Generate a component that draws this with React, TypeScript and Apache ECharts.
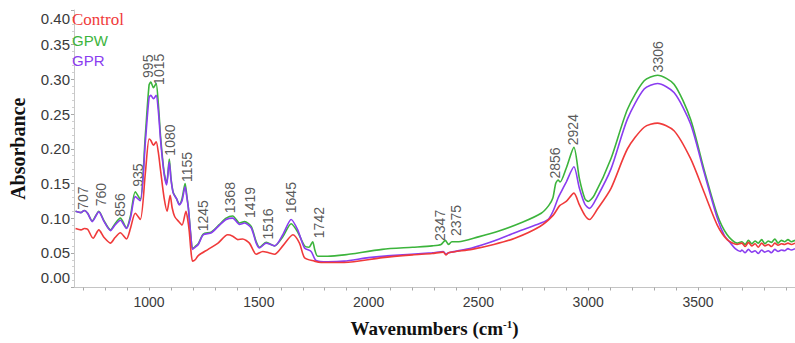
import React, { useEffect, useRef } from 'react';
import * as echarts from 'echarts';

const SANS = '"Liberation Sans", Arial, sans-serif';
const SERIF = '"Liberation Serif", "Times New Roman", serif';

const seriesNames = ['Control', 'GPW', 'GPR'];
const seriesColors = ['#f03a3a', '#3cb43c', '#8a3df0'];

const xTickValues = [700, 800, 900, 1000, 1100, 1200, 1300, 1400, 1500, 1600, 1700, 1800, 1900, 2000, 2100, 2200, 2300, 2400, 2500, 2600, 2700, 2800, 2900, 3000, 3100, 3200, 3300, 3400, 3500, 3600, 3700, 3800, 3900];
const xLabelValues = [1000, 1500, 2000, 2500, 3000, 3500];

const controlData: [number, number][] = [
  [665, 0.085], [690, 0.083], [705, 0.085], [720, 0.084], [745, 0.071], [771, 0.083], [795, 0.072], [824, 0.064], [845, 0.072], [869, 0.079], [897, 0.070], [915, 0.085], [937, 0.107], [960, 0.098], [983, 0.165], [1000, 0.214], [1008, 0.212], [1020, 0.205], [1032, 0.210], [1042, 0.195], [1053, 0.167], [1068, 0.130], [1082, 0.110], [1096, 0.133], [1105, 0.115], [1117, 0.102], [1135, 0.095], [1150, 0.090], [1168, 0.110], [1176, 0.098], [1183, 0.081], [1190, 0.055], [1198, 0.038], [1210, 0.040], [1224, 0.046], [1269, 0.055], [1314, 0.064], [1358, 0.076], [1381, 0.074], [1404, 0.069], [1426, 0.070], [1457, 0.064], [1488, 0.048], [1518, 0.052], [1545, 0.050], [1572, 0.048], [1609, 0.060], [1655, 0.076], [1685, 0.064], [1708, 0.043], [1753, 0.038], [1783, 0.036], [1889, 0.036], [2062, 0.043], [2200, 0.047], [2289, 0.049], [2340, 0.051], [2352, 0.047], [2364, 0.050], [2470, 0.055], [2570, 0.062], [2666, 0.071], [2780, 0.088], [2840, 0.104], [2870, 0.118], [2900, 0.124], [2935, 0.136], [2960, 0.119], [2985, 0.104], [3006, 0.098], [3040, 0.112], [3104, 0.143], [3179, 0.200], [3255, 0.231], [3316, 0.237], [3391, 0.226], [3466, 0.186], [3527, 0.138], [3588, 0.090], [3633, 0.069], [3678, 0.062],
  [3700, 0.064], [3715, 0.059], [3730, 0.065], [3745, 0.060], [3760, 0.063], [3775, 0.058], [3790, 0.064], [3805, 0.060], [3820, 0.062], [3835, 0.059], [3850, 0.064], [3865, 0.061], [3880, 0.063], [3895, 0.062], [3910, 0.064], [3925, 0.062], [3942, 0.064],
];

const gpwData: [number, number][] = [
  [665, 0.110], [690, 0.108], [705, 0.111], [720, 0.107], [741, 0.096], [771, 0.110], [795, 0.096], [824, 0.083], [845, 0.092], [869, 0.100], [897, 0.086], [915, 0.103], [937, 0.138], [960, 0.127], [983, 0.220], [1000, 0.292], [1008, 0.296], [1020, 0.288], [1032, 0.294], [1042, 0.265], [1053, 0.215], [1068, 0.167], [1080, 0.150], [1092, 0.185], [1100, 0.157], [1110, 0.137], [1125, 0.128], [1138, 0.120], [1150, 0.128], [1164, 0.150], [1172, 0.132], [1179, 0.115], [1190, 0.075], [1198, 0.056], [1210, 0.059], [1224, 0.063], [1247, 0.077], [1284, 0.080], [1321, 0.091], [1351, 0.100], [1381, 0.103], [1412, 0.093], [1435, 0.095], [1465, 0.088], [1488, 0.066], [1503, 0.058], [1533, 0.065], [1572, 0.060], [1609, 0.073], [1647, 0.092], [1677, 0.080], [1708, 0.060], [1728, 0.058], [1745, 0.066], [1755, 0.054], [1768, 0.045], [1813, 0.045], [1889, 0.047], [2062, 0.055], [2200, 0.058], [2289, 0.060], [2330, 0.062], [2349, 0.068], [2364, 0.062], [2379, 0.066], [2410, 0.066], [2500, 0.073], [2590, 0.081], [2700, 0.094], [2786, 0.107], [2820, 0.118], [2839, 0.129], [2852, 0.150], [2863, 0.155], [2872, 0.152], [2900, 0.172], [2935, 0.202], [2960, 0.157], [2985, 0.128], [3000, 0.124], [3028, 0.133], [3104, 0.186], [3179, 0.257], [3255, 0.298], [3316, 0.306], [3391, 0.293], [3466, 0.243], [3527, 0.171], [3588, 0.105], [3633, 0.076], [3678, 0.064],
  [3700, 0.066], [3715, 0.062], [3730, 0.068], [3745, 0.063], [3760, 0.067], [3775, 0.064], [3790, 0.069], [3805, 0.063], [3820, 0.067], [3835, 0.065], [3850, 0.070], [3865, 0.064], [3880, 0.068], [3895, 0.066], [3910, 0.069], [3925, 0.066], [3942, 0.068],
];

const gprData: [number, number][] = [
  [665, 0.110], [690, 0.108], [705, 0.111], [720, 0.107], [741, 0.095], [771, 0.109], [795, 0.095], [824, 0.082], [845, 0.090], [869, 0.097], [897, 0.085], [915, 0.100], [937, 0.131], [960, 0.125], [983, 0.210], [1000, 0.274], [1008, 0.277], [1020, 0.272], [1032, 0.277], [1042, 0.255], [1053, 0.210], [1068, 0.165], [1080, 0.148], [1092, 0.181], [1100, 0.155], [1110, 0.136], [1125, 0.128], [1138, 0.119], [1150, 0.125], [1164, 0.145], [1172, 0.130], [1179, 0.114], [1190, 0.075], [1198, 0.055], [1210, 0.058], [1224, 0.062], [1247, 0.076], [1284, 0.079], [1321, 0.090], [1351, 0.098], [1381, 0.100], [1412, 0.091], [1435, 0.093], [1465, 0.086], [1488, 0.064], [1503, 0.057], [1533, 0.064], [1572, 0.060], [1609, 0.076], [1647, 0.098], [1677, 0.083], [1708, 0.057], [1738, 0.052], [1760, 0.039], [1813, 0.037], [1889, 0.038], [2000, 0.043], [2100, 0.046], [2289, 0.050], [2340, 0.052], [2352, 0.048], [2364, 0.050], [2470, 0.057], [2570, 0.067], [2666, 0.079], [2760, 0.090], [2817, 0.098], [2840, 0.110], [2863, 0.129], [2877, 0.138], [2900, 0.152], [2935, 0.174], [2960, 0.143], [2985, 0.120], [3006, 0.114], [3040, 0.130], [3104, 0.171], [3179, 0.243], [3255, 0.286], [3316, 0.294], [3391, 0.281], [3466, 0.236], [3527, 0.167], [3588, 0.100], [3620, 0.075], [3648, 0.064], [3670, 0.056], [3693, 0.052],
  [3700, 0.054], [3715, 0.050], [3730, 0.055], [3745, 0.051], [3760, 0.053], [3775, 0.049], [3790, 0.054], [3805, 0.051], [3820, 0.053], [3835, 0.050], [3850, 0.055], [3865, 0.052], [3880, 0.054], [3895, 0.053], [3910, 0.056], [3925, 0.054], [3942, 0.056],
];

// [wavenumber, absorbance at label base, text]
const peakLabels: [number, number, string][] = [
  [700, 0.112, '707'], [782, 0.117, '760'], [869, 0.102, '856'], [948, 0.145, '935'],
  [995, 0.302, '995'], [1047, 0.292, '1015'], [1096, 0.190, '1080'], [1171, 0.152, '1155'],
  [1247, 0.081, '1245'], [1368, 0.107, '1368'], [1458, 0.100, '1419'], [1541, 0.069, '1516'],
  [1647, 0.107, '1645'], [1776, 0.071, '1742'], [2326, 0.067, '2347'], [2398, 0.074, '2375'],
  [2847, 0.157, '2856'], [2931, 0.205, '2924'], [3317, 0.310, '3306'],
];

const allData = [controlData, gpwData, gprData];
const drawOrder = [1, 2, 0];
const legendKeys = ['c', 'w', 'p'];

const option: any = {
  animation: false,
  backgroundColor: '#ffffff',
  grid: { left: 70, right: 0, top: 10, bottom: 53 },
  legend: {
    orient: 'vertical',
    left: 67,
    top: 11,
    padding: 0,
    itemGap: 4,
    itemWidth: 0,
    itemHeight: 14,
    icon: 'none',
    selectedMode: false,
    data: seriesNames,
    formatter: (name: string) => '{' + legendKeys[seriesNames.indexOf(name)] + '|' + name + '}',
    textStyle: {
      lineHeight: 16,
      rich: {
        c: { color: seriesColors[0], fontFamily: SERIF, fontSize: 17, lineHeight: 16 },
        w: { color: seriesColors[1], fontFamily: SANS, fontSize: 15, lineHeight: 16 },
        p: { color: seriesColors[2], fontFamily: SANS, fontSize: 15, lineHeight: 16 },
      },
    },
  },
  xAxis: {
    type: 'value',
    min: 658,
    max: 3942,
    name: '{n|Wavenumbers (cm}{s|-1}{n|)}',
    nameLocation: 'middle',
    nameGap: 31,
    nameTextStyle: {
      rich: {
        n: { fontFamily: SERIF, fontWeight: 'bold', fontSize: 19, color: '#111' },
        s: { fontFamily: SERIF, fontWeight: 'bold', fontSize: 11, color: '#111', verticalAlign: 'top', padding: [0, 0, 9, 0] },
      },
    },
    axisLine: { show: true, lineStyle: { color: '#c4c4c4', width: 1 } },
    axisTick: { show: true, length: 3, customValues: xTickValues, lineStyle: { color: '#a8a8a8' } },
    axisLabel: {
      customValues: xLabelValues,
      formatter: (v: number) => String(v),
      fontFamily: SANS,
      fontSize: 14,
      color: '#3a3a3a',
      margin: 7,
    },
    splitLine: { show: false },
  },
  yAxis: {
    type: 'value',
    min: 0,
    max: 0.4,
    interval: 0.05,
    name: 'Absorbance',
    nameLocation: 'middle',
    nameGap: 46,
    nameTextStyle: { fontFamily: SERIF, fontWeight: 'bold', fontSize: 20, color: '#111' },
    axisLine: { show: true, lineStyle: { color: '#c8c8c8', width: 1 } },
    axisTick: { show: true, length: 3, lineStyle: { color: '#a8a8a8' } },
    minorTick: { show: true, splitNumber: 5, length: 2, lineStyle: { color: '#cfcfcf' } },
    axisLabel: {
      fontFamily: SANS,
      fontSize: 15,
      color: '#3a3a3a',
      margin: 4,
      formatter: (v: number) => {
        const s = v.toFixed(2);
        if (Math.abs(v - 0.4) < 1e-9) return '{t|' + s + '}';
        if (Math.abs(v) < 1e-9) return '{b|' + s + '}';
        return s;
      },
      rich: {
        t: { fontFamily: SANS, fontSize: 15, color: '#3a3a3a', padding: [16, 0, 0, 0] },
        b: { fontFamily: SANS, fontSize: 15, color: '#3a3a3a', padding: [0, 0, 20, 0] },
      },
    },
    splitLine: { show: false },
  },
  series: [
    ...drawOrder.map((i) => ({
      name: seriesNames[i],
      type: 'line',
      data: allData[i],
      showSymbol: false,
      smooth: 0.25,
      lineStyle: { color: seriesColors[i], width: 1.6 },
      itemStyle: { color: seriesColors[i] },
      silent: true,
    })),
    {
      name: 'peaks',
      type: 'scatter',
      silent: true,
      symbolSize: 0.1,
      itemStyle: { color: 'rgba(0,0,0,0)' },
      data: peakLabels.map(([w, v, t]) => ({ value: [w, v], name: t })),
      label: {
        show: true,
        formatter: '{b}',
        rotate: 90,
        position: 'top',
        distance: 0,
        align: 'left',
        verticalAlign: 'middle',
        fontFamily: SANS,
        fontSize: 14,
        color: '#2e2e2e',
      },
    },
  ],
};

export default function App() {
  const ref = useRef<HTMLDivElement>(null);
  useEffect(() => {
    document.body.style.margin = '0';
    const chart = echarts.init(ref.current!, null, { renderer: 'svg' });
    chart.setOption(option);
    return () => chart.dispose();
  }, []);
  return <div ref={ref} style={{ width: 795, height: 343 }} />;
}
